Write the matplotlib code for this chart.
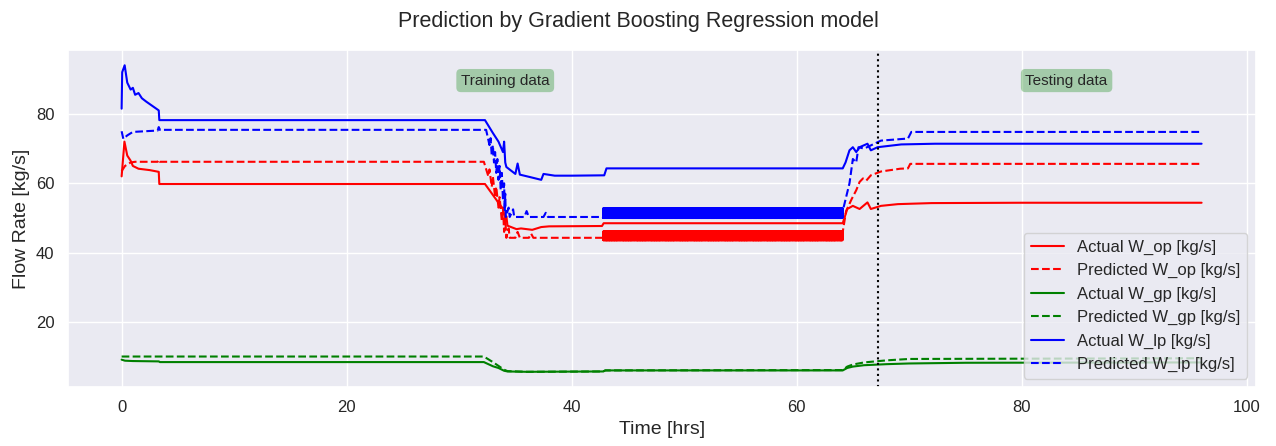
import numpy as np
import matplotlib
matplotlib.use('Agg')
import matplotlib.pyplot as plt
import seaborn as sns

sns.set_theme(style='darkgrid')
plt.rcParams['font.family'] = ['Liberation Sans', 'DejaVu Sans']

# 訓練/測試分割點 (hrs)
split_t = 67.2

# 震盪區段 (時間範圍, 低值, 高值)
band_t = (42.8, 64.1)
op_band = (43.6, 46.2)
lp_band = (50.0, 52.8)

# Actual W_op
op_act_t = [0, 0.25, 0.5, 0.8, 1.0, 1.5, 2.5, 3.3, 3.35, 32.3, 33.9, 34.1, 34.2, 34.3, 35.1, 35.5,
            36.5, 37.3, 38.0, 42.7, 42.85, 64.1, 64.3, 64.5, 65.0, 65.6, 66.3, 66.6, 67.5, 69.0, 72.0, 80.0, 96.0]
op_act_v = [62, 72, 68, 66.5, 65, 64.2, 63.8, 63.3, 59.8, 59.8, 52.6, 49.5, 50.5, 47.8, 46.8, 47.0,
            46.6, 47.4, 47.6, 47.7, 48.5, 48.5, 50.5, 52.6, 53.5, 52.6, 54.5, 52.6, 53.5, 54.0, 54.3, 54.4, 54.4]

# Predicted W_op (震盪區段前/後)
op_pre_t = [0, 0.3, 0.8, 1.2, 3.2, 3.3, 3.4, 32.2, 32.6, 32.7, 32.9, 33.0, 33.2, 33.3, 33.5, 33.6,
            33.8, 33.9, 34.0, 34.1, 34.2, 34.4, 34.5, 35.0, 35.2, 35.4, 36.2, 36.4, 36.6, 42.75]
op_pre_v = [63.5, 65, 66, 66.2, 66.2, 66.8, 66.2, 66.2, 62, 64, 59, 62, 56, 59, 53, 56,
            49, 53, 46, 50, 44.3, 47, 44.3, 44.3, 46, 44.3, 44.3, 45.5, 44.3, 44.3]
op_post_t = [64.1, 64.4, 64.9, 65.3, 65.6, 65.9, 66.2, 66.6, 67.5, 69.2, 69.9, 70.1, 96.0]
op_post_v = [46, 52, 55.5, 58, 60.4, 61.4, 60.8, 62.3, 63.4, 64.2, 64.3, 65.6, 65.6]

# Actual W_gp
gp_act_t = [0, 0.3, 1.0, 3.3, 3.4, 32.2, 33.0, 33.5, 34.0, 34.3, 36.0, 42.8, 43.0, 64.1, 64.5, 65.0,
            66.0, 68.0, 70.0, 75.0, 96.0]
gp_act_v = [9.2, 8.9, 8.8, 8.7, 8.5, 8.5, 7.3, 6.8, 6.0, 5.8, 5.7, 5.8, 6.1, 6.1, 6.8, 7.2,
            7.6, 7.9, 8.1, 8.3, 8.4]

# Predicted W_gp
gp_pred_t = [0, 0.5, 32.2, 33.0, 34.0, 34.3, 36.0, 42.8, 43.0, 64.1, 64.5, 65.0, 66.0, 68.0, 70.0, 96.0]
gp_pred_v = [10.1, 10.1, 10.1, 8.5, 6.3, 5.9, 5.7, 5.8, 6.1, 6.2, 7.2, 7.8, 8.4, 9.0, 9.4, 9.6]

# Actual W_lp
lp_act_t = [0, 0.05, 0.27, 0.5, 0.8, 1.0, 1.2, 1.5, 1.8, 2.2, 3.3, 3.35, 32.3, 33.0, 33.5, 33.9, 34.0,
            34.1, 34.2, 35.0, 35.2, 35.4, 36.3, 37.3, 37.5, 38.5, 40.0, 42.9, 43.1, 64.1, 64.35, 64.7,
            65.0, 65.3, 65.6, 66.3, 66.6, 67.2, 69.3, 72.3, 96.0]
lp_act_v = [81.5, 92, 94, 89, 87, 87.5, 85.5, 86, 84.5, 83.5, 81, 78.2, 78.2, 74.5, 72, 69, 72,
            66, 64.7, 62.7, 65.7, 62.5, 61.8, 61.0, 62.7, 62.2, 62.2, 62.3, 64.3, 64.3, 66, 69.5,
            70.4, 69, 70.4, 71.4, 69.5, 70.4, 71.2, 71.4, 71.4]

# Predicted W_lp (震盪區段前/後)
lp_pre_t = [0, 0.15, 0.5, 1.0, 3.2, 3.3, 3.4, 32.4, 32.7, 32.8, 32.9, 33.0, 33.1, 33.2, 33.3, 33.4,
            33.5, 33.6, 33.7, 33.8, 33.9, 34.0, 34.05, 34.1, 34.15, 34.4, 34.5, 34.8, 34.9, 35.8,
            36.0, 36.2, 37.5, 37.7, 37.9, 42.75]
lp_pre_v = [75, 72.8, 73.8, 74.8, 75.2, 76.2, 75.4, 75.4, 71, 73, 68, 71, 66, 69, 63, 67,
            61, 65, 58, 63, 55, 60, 52, 57, 50.3, 53, 50.3, 52.5, 50.3, 50.3,
            52, 50.3, 50.3, 51.5, 50.3, 50.3]
lp_post_t = [64.1, 64.4, 64.7, 65.0, 65.3, 65.5, 66.0, 67.5, 69.9, 70.2, 96.0]
lp_post_v = [52, 56, 60, 67, 66, 70.4, 70, 72.3, 72.9, 74.8, 74.8]


def with_band(pre_t, pre_v, lo_hi, post_t, post_v):
    # 震盪段: 取樣點在低值/高值間交替
    bt = np.arange(band_t[0], band_t[1], 0.01)
    bv = np.where(np.arange(len(bt)) % 2 == 0, lo_hi[0], lo_hi[1])
    t = np.concatenate([pre_t, bt, post_t])
    v = np.concatenate([pre_v, bv, post_v])
    return t, v


op_pred_t, op_pred_v = with_band(op_pre_t, op_pre_v, op_band, op_post_t, op_post_v)
lp_pred_t, lp_pred_v = with_band(lp_pre_t, lp_pre_v, lp_band, lp_post_t, lp_post_v)

fig = plt.figure(figsize=(12.76, 4.46), dpi=100)
ax = fig.add_axes([0.053, 0.132, 0.931, 0.756])

ax.plot(op_act_t, op_act_v, color='red', linestyle='-', label='Actual W_op [kg/s]')
ax.plot(op_pred_t, op_pred_v, color='red', linestyle='--', label='Predicted W_op [kg/s]')
ax.plot(gp_act_t, gp_act_v, color='green', linestyle='-', label='Actual W_gp [kg/s]')
ax.plot(gp_pred_t, gp_pred_v, color='green', linestyle='--', label='Predicted W_gp [kg/s]')
ax.plot(lp_act_t, lp_act_v, color='blue', linestyle='-', label='Actual W_lp [kg/s]')
ax.plot(lp_pred_t, lp_pred_v, color='blue', linestyle='--', label='Predicted W_lp [kg/s]')

ax.axvline(split_t, color='black', linestyle=':')

box = dict(boxstyle='round', facecolor='green', alpha=0.3, edgecolor='none')
ax.text(34.1, 89.6, 'Training data', ha='center', va='center', fontsize=11, bbox=box)
ax.text(84.0, 89.6, 'Testing data', ha='center', va='center', fontsize=11, bbox=box)

fig.suptitle('Prediction by Gradient Boosting Regression model', fontsize=15.5, y=0.975)
ax.set_xlabel('Time [hrs]', fontsize=14)
ax.set_ylabel('Flow Rate [kg/s]', fontsize=14)
ax.tick_params(labelsize=12)
ax.set_yticks([20, 40, 60, 80])
ax.legend(loc='lower right', fontsize=12)

fig.savefig('out.png', dpi=100)
